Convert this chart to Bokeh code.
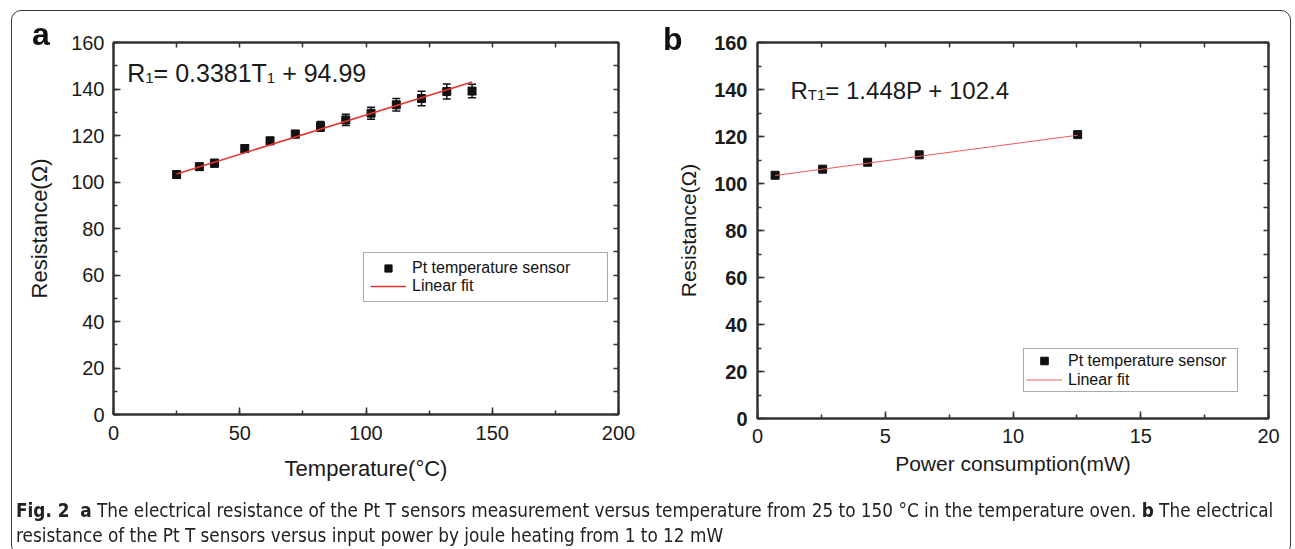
from bokeh.plotting import figure
from bokeh.models import (Range1d, LinearAxis, SingleIntervalTicker, FixedTicker, Whisker, TeeHead,
                          ColumnDataSource, Label, Legend, LegendItem, Div)
from bokeh.layouts import row, column
from bokeh.embed import file_html
from bokeh.resources import INLINE

# ---------------- data ----------------
# panel a: resistance vs temperature (oven)
temp_a = [25, 34, 40, 52, 62, 72, 82, 92, 102, 112, 122, 132, 142]
res_a = [103.2, 106.6, 108.1, 114.4, 117.7, 120.6, 123.9, 126.7, 129.6, 133.2, 135.9, 138.9, 139.1]
err_a = [1.4, 1.5, 1.6, 1.6, 1.4, 1.6, 2.1, 2.4, 2.6, 2.7, 3.1, 3.2, 2.9]
fit_a = (0.3381, 94.99)

# panel b: resistance vs power (joule heating)
power_b = [0.69, 2.55, 4.31, 6.33, 12.53]
res_b = [103.5, 106.1, 109.05, 112.2, 120.8]
err_b = [0.8, 0.8, 0.9, 0.9, 0.6]
fit_b = (1.448, 102.4)

legend_labels = ["Pt temperature sensor", "Linear fit"]
xlabel_a = "Temperature(°C)"
xlabel_b = "Power consumption(mW)"
ylabel = "Resistance(Ω)"

FONT = "Liberation Sans"
INK = "#1a1a1a"
AX = "#333333"

W = {' ': 0.278, '+': 0.584, '=': 0.584, '.': 0.278, 'P': 0.667, 'R': 0.722, 'T': 0.611}
for d in "0123456789":
    W[d] = 0.556


def tw(s, size):
    return sum(W.get(c, 0.556) for c in s) * size


def style_axis(ax, bold=False):
    ax.axis_line_color = AX
    ax.axis_line_width = 2
    ax.major_tick_line_color = AX
    ax.minor_tick_line_color = AX
    ax.major_tick_line_width = 1.5
    ax.minor_tick_line_width = 1.5
    ax.major_tick_in = 7
    ax.major_tick_out = 0
    ax.minor_tick_in = 4
    ax.minor_tick_out = 0
    ax.major_label_text_font = FONT
    ax.major_label_text_font_size = "20px"
    ax.major_label_text_font_style = "bold" if bold else "normal"
    ax.major_label_text_color = INK


def mirror_axis(ticks):
    ax = LinearAxis(ticker=FixedTicker(ticks=[], minor_ticks=ticks))
    ax.axis_line_color = AX
    ax.axis_line_width = 2
    ax.minor_tick_line_color = AX
    ax.minor_tick_line_width = 1.5
    ax.minor_tick_in = 5
    ax.minor_tick_out = 0
    ax.major_label_standoff = 0
    return ax


def make_panel(xmax, xint, fw, fh, bl, br, bt, bb, ybold):
    p = figure(frame_width=fw, frame_height=fh, min_border_left=bl, min_border_right=br,
               min_border_top=bt, min_border_bottom=bb,
               x_range=Range1d(0, xmax), y_range=Range1d(0, 160),
               output_backend="svg", toolbar_location=None)
    p.grid.visible = False
    p.background_fill_color = "white"
    p.border_fill_color = "white"
    p.outline_line_color = AX
    p.outline_line_width = 2
    xa = p.below[0]
    ya = p.left[0]
    xa.ticker = SingleIntervalTicker(interval=xint, num_minor_ticks=2)
    ya.ticker = SingleIntervalTicker(interval=20, num_minor_ticks=2)
    style_axis(xa)
    style_axis(ya, bold=ybold)
    xt = [i * xint / 2 for i in range(0, 9)]
    yt = [i * 10 for i in range(0, 17)]
    p.add_layout(mirror_axis(xt), "above")
    p.add_layout(mirror_axis(yt), "right")
    for ax in (xa, ya):
        ax.axis_label_text_font = FONT
        ax.axis_label_text_font_style = "normal"
        ax.axis_label_text_color = INK
    return p


def add_eq(p, x0, y0, parts, F, f, drop):
    x = x0
    for text, sub in parts:
        size = f if sub else F
        stripped = text.lstrip(" ")
        x += tw(text[:len(text) - len(stripped)], size)
        p.add_layout(Label(x=x, y=y0 - (drop if sub else 0), x_units="screen", y_units="screen",
                           text=stripped, text_font=FONT, text_font_size=f"{size}px",
                           text_baseline="alphabetic", text_color=INK))
        x += tw(stripped, size)


def add_data(p, xs, ys, es, fit, line_color, line_width, loc, lw, pad, gh):
    src = ColumnDataSource(dict(x=xs, y=ys,
                                upper=[v + e for v, e in zip(ys, es)],
                                lower=[v - e for v, e in zip(ys, es)]))
    wk = Whisker(source=src, base="x", upper="upper", lower="lower",
                 line_color="#111111", line_width=1.5,
                 upper_head=TeeHead(size=8, line_color="#111111", line_width=1.5),
                 lower_head=TeeHead(size=8, line_color="#111111", line_width=1.5))
    p.add_layout(wk)
    sc = p.scatter("x", "y", source=src, marker="square", size=8,
                   fill_color="#111111", line_color="#111111")
    fx = [min(xs), max(xs)]
    fy = [fit[0] * v + fit[1] for v in fx]
    ln = p.line(fx, fy, line_color=line_color, line_width=line_width)
    leg = Legend(items=[LegendItem(label=legend_labels[0], renderers=[sc]),
                        LegendItem(label=legend_labels[1], renderers=[ln])],
                 location=loc, margin=0, padding=pad, spacing=0,
                 glyph_width=36, glyph_height=gh, label_height=gh, label_width=lw,
                 label_standoff=6, label_text_font=FONT, label_text_font_size="16px",
                 label_text_color="#111111", border_line_color="#555555",
                 border_line_width=1, background_fill_color="white", background_fill_alpha=1)
    p.add_layout(leg)


# ---------------- panel a ----------------
pa = make_panel(200, 50, 505, 372, 113, 30, 42, 84, False)
pa.below[0].axis_label = xlabel_a
pa.below[0].axis_label_text_font_size = "22px"
pa.below[0].major_label_standoff = 11
pa.below[0].axis_label_standoff = 13
pa.left[0].axis_label = ylabel
pa.left[0].axis_label_text_font_size = "22px"
pa.left[0].major_label_standoff = 9
pa.left[0].axis_label_standoff = 16
add_data(pa, temp_a, res_a, err_a, fit_a, "#e8322c", 1.5, (250, 112.3), 189, 6, 18)
add_eq(pa, 13.7, 342,
       [("R", False), ("1", True), (f"= {fit_a[0]}T", False), ("1", True), (f" + {fit_a[1]}", False)],
       25, 15, 5)

# ---------------- panel b ----------------
pb = make_panel(20, 5, 511, 376, 109, 25, 38, 84, True)
pb.below[0].axis_label = xlabel_b
pb.below[0].axis_label_text_font_size = "21px"
pb.below[0].major_label_standoff = 10
pb.below[0].axis_label_standoff = 6
pb.left[0].axis_label = ylabel
pb.left[0].axis_label_text_font_size = "21px"
pb.left[0].major_label_standoff = 10
pb.left[0].axis_label_standoff = 11
add_data(pb, power_b, res_b, err_b, fit_b, "#f25a5a", 1.0, (266, 26), 167, 2, 19)
add_eq(pb, 33, 328,
       [("R", False), ("T1", True), (f"= {fit_b[0]}P + {fit_b[1]}", False)],
       24, 15, 4)

# ---------------- caption, panel letters, frame ----------------
caption_line1 = ("<b>Fig. 2</b>&nbsp; <b>a</b> The electrical resistance of the Pt T sensors measurement "
                 "versus temperature from 25 to 150 °C in the temperature oven. <b>b</b> The electrical")
caption_line2 = "resistance of the Pt T sensors versus input power by joule heating from 1 to 12 mW"
letter_css = ("position:fixed;font-family:'Liberation Sans',Arial,sans-serif;font-size:32px;"
              "font-weight:bold;line-height:32px;color:#111;")
html = (
    '<div style="position:fixed;left:11px;top:10px;width:1280px;height:545px;'
    'border:1.5px solid #3a3a3a;border-radius:10px;pointer-events:none;"></div>'
    f'<div style="{letter_css}left:32px;top:18px;">a</div>'
    f'<div style="{letter_css}left:663px;top:23px;">b</div>'
    '<div style="position:fixed;left:16px;top:498px;font-family:\'Liberation Sans Narrow\','
    '\'DejaVu Sans Condensed\',sans-serif;font-size:18.8px;line-height:25px;color:#222;'
    'white-space:nowrap;">' + caption_line1 + "<br>" + caption_line2 + "</div>"
)
cap = Div(text=html, width=1290, height=40)

layout = column(row(pa, pb, spacing=0), cap, spacing=0)
open("out.html", "w").write(file_html(layout, INLINE))
